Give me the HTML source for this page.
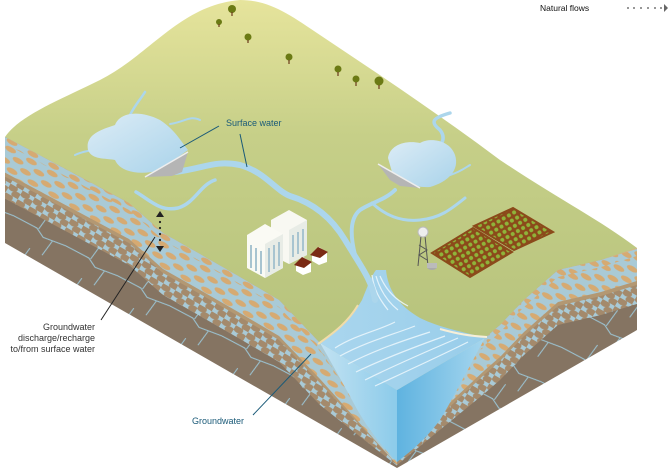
<!DOCTYPE html>
<html><head><meta charset="utf-8"><style>
html,body{margin:0;padding:0;background:#fff;width:671px;height:469px;overflow:hidden;}
svg{display:block;font-family:"Liberation Sans",sans-serif;}
</style></head><body>
<svg width="671" height="469" viewBox="0 0 671 469" xmlns="http://www.w3.org/2000/svg">
<defs>
<linearGradient id="grass" x1="0" y1="0" x2="0" y2="1">
<stop offset="0" stop-color="#e6e49c"/><stop offset="0.35" stop-color="#c6cf88"/><stop offset="1" stop-color="#b3c07a"/></linearGradient>
<linearGradient id="lake" x1="0" y1="0" x2="1" y2="1">
<stop offset="0" stop-color="#dcecf6"/><stop offset="1" stop-color="#a9d3ea"/></linearGradient>
<linearGradient id="wtop" x1="0" y1="0" x2="1" y2="0">
<stop offset="0" stop-color="#aad6ee"/><stop offset="1" stop-color="#98cdea"/></linearGradient>
<linearGradient id="wleft" x1="0" y1="0" x2="1" y2="0">
<stop offset="0" stop-color="#c2e2f2"/><stop offset="1" stop-color="#8ccbea"/></linearGradient>
<linearGradient id="wright" x1="0" y1="0" x2="1" y2="0">
<stop offset="0" stop-color="#5fb3e0"/><stop offset="1" stop-color="#a6d6ee"/></linearGradient>
<pattern id="grav" width="24" height="12" patternUnits="userSpaceOnUse" patternTransform="rotate(30)">
<rect width="24" height="12" fill="#a9cad6"/>
<ellipse cx="6" cy="3" rx="6" ry="2.6" fill="#d6aa72"/>
<ellipse cx="18" cy="9" rx="6" ry="2.6" fill="#d6aa72"/>
</pattern>
<pattern id="brgrav" width="14" height="10" patternUnits="userSpaceOnUse" patternTransform="rotate(30)">
<rect width="14" height="10" fill="#a9cad6"/>
<ellipse cx="4" cy="2.5" rx="5.5" ry="3.6" fill="#a48a6c"/>
<ellipse cx="11" cy="7.5" rx="5.5" ry="3.6" fill="#a48a6c"/>
</pattern>
<pattern id="rock" width="60" height="40" patternUnits="userSpaceOnUse" patternTransform="rotate(30)">
<rect width="60" height="40" fill="#857462"/>
<path d="M0 20 L26 19 L36 24 L60 20 M30 0 L28 19 M46 22 L44 40" stroke="#9cc6d6" stroke-width="1" fill="none"/>
</pattern>
<pattern id="crop" width="6" height="6" patternUnits="userSpaceOnUse" patternTransform="rotate(-30)">
<rect width="6" height="6" fill="#8b4a1a"/><circle cx="3" cy="3" r="2" fill="#8fb43a"/>
</pattern>
<clipPath id="lf"><path d="M5,137 L43,157 L86,180 L129,203 L163,233 L193,250 L240,277 L279,300 L320,343 L345,385 L370,430 L397,462 L397,468 L5,243 Z"/></clipPath>
<clipPath id="rf"><path d="M637,248 L601,260 L558,270 L524,300 L500,325 L485,338 L397,420 L397,468 L637,330 Z"/></clipPath>
</defs>

<path d="M5,137 C20,115 60,100 100,80 C150,55 180,5 240,0 C270,0 290,15 320,35 C380,75 440,115 500,160 C560,200 600,220 637,248 L601,260 L558,270 L524,300 L500,325 L485,338 L397,390 L320,343 L279,300 L240,277 L193,250 L163,233 L129,203 L86,180 L43,157 Z" fill="url(#grass)"/>

<g clip-path="url(#lf)">
<rect x="0" y="100" width="420" height="368" fill="url(#rock)"/>
<path transform="translate(0,62)" d="M0,134 L43,157 L86,180 L129,203 L163,233 L193,250 L240,277 L279,300 L320,343 L400,406 L400,0 L0,0Z" fill="url(#brgrav)"/>
<path transform="translate(0,40)" d="M0,134 L43,157 L86,180 L129,203 L163,233 L193,250 L240,277 L279,300 L320,343 L400,428 L400,0 L0,0Z" fill="#b39873"/>
<path transform="translate(0,36)" d="M0,134 L43,157 L86,180 L129,203 L163,233 L193,250 L240,277 L279,300 L320,343 L400,432 L400,0 L0,0Z" fill="url(#grav)"/>
<path transform="translate(0,7)" d="M0,134 L43,157 L86,180 L129,203 L163,233 L193,250 L240,277 L279,300 L320,343 L400,460 L400,0 L0,0Z" fill="url(#grav)"/>
<path d="M0,134 L43,157 L86,180 L129,203 L163,233 L193,250 L240,277 L279,300 L320,343 L400,466 L400,0 L0,0Z" fill="#e0b47c"/>
</g>
<g clip-path="url(#rf)">
<rect x="390" y="230" width="260" height="238" fill="url(#rock)"/>
<path transform="translate(0,55)" d="M640,248 L601,260 L558,270 L524,300 L500,325 L485,338 L397,410 L390,0 L640,0Z" fill="url(#brgrav)"/>
<path transform="translate(0,36)" d="M640,248 L601,260 L558,270 L524,300 L500,325 L485,338 L397,420 L390,0 L640,0Z" fill="#b39873"/>
<path transform="translate(0,32)" d="M640,248 L601,260 L558,270 L524,300 L500,325 L485,338 L397,420 L390,0 L640,0Z" fill="url(#grav)"/>
<path transform="translate(0,7)" d="M640,248 L601,260 L558,270 L524,300 L500,325 L485,338 L397,420 L390,0 L640,0Z" fill="url(#grav)"/>
<path d="M640,248 L601,260 L558,270 L524,300 L500,325 L485,338 L397,420 L390,0 L640,0Z" fill="#e0b47c"/>
</g>

<path d="M320,343 L397,390 L397,462 C380,445 365,425 352,400 C340,378 330,360 320,343Z" fill="url(#wleft)"/>
<path d="M397,390 L485,338 C470,365 455,395 440,420 C425,440 410,452 397,462Z" fill="url(#wright)"/>
<path d="M320,343 C335,330 352,318 362,300 C368,285 372,275 376,270 L386,270 C388,290 398,305 420,318 C440,328 465,332 485,338 L397,390Z" fill="url(#wtop)"/>
<path d="M318,344 C335,332 348,322 358,305" stroke="#f2dca8" stroke-width="2" fill="none"/>
<path d="M440,329 C458,334 470,336 487,337" stroke="#f7efd8" stroke-width="2" fill="none"/>
<g stroke="#eaf6fc" stroke-width="1.2" fill="none" opacity="0.9">
<path d="M335,348 C355,335 380,330 395,322"/><path d="M340,356 C365,342 395,334 415,326"/>
<path d="M348,364 C375,350 405,340 430,332"/><path d="M356,372 C385,358 420,345 445,336"/>
<path d="M365,380 C395,365 430,350 458,338"/><path d="M375,386 C405,372 440,356 468,342"/>
<path d="M372,275 C374,290 380,300 388,310"/><path d="M376,276 C380,290 388,302 398,310"/><path d="M380,276 C386,290 396,300 408,306"/>
</g>

<g stroke="#acd6ec" fill="none" stroke-linecap="round">
<path d="M175,172 C205,168 215,160 240,165 C265,172 275,190 290,196 C310,202 330,215 345,240 C360,265 372,280 375,300" stroke-width="6"/>
<path d="M136,192 C150,200 160,212 178,208 C195,203 200,185 215,180" stroke-width="3.5"/>
<path d="M395,190 C385,200 370,203 360,210 C350,218 350,235 355,255" stroke-width="4"/>
<path d="M372,203 C385,215 400,222 420,220 C440,218 450,210 465,198" stroke-width="3"/>
<path d="M420,160 C440,150 448,140 440,130 C430,122 432,118 450,113" stroke-width="3.5"/>
<path d="M130,115 C135,105 140,100 145,92" stroke-width="2.5"/>
<path d="M75,155 C85,150 90,152 96,148" stroke-width="2"/>
<path d="M170,124 C185,122 190,115 200,120" stroke-width="2"/>
<path d="M450,175 C460,172 465,168 470,165" stroke-width="2"/>
</g>
<path d="M88,150 C85,135 100,130 115,125 C120,112 140,110 160,120 C175,130 180,140 188,150 L160,170 C140,176 120,172 115,160 C105,158 92,160 88,150Z" fill="url(#lake)"/>
<path d="M388,158 C390,145 405,140 420,143 C430,137 450,140 455,155 C460,170 448,182 430,187 C415,188 400,182 392,172Z" fill="url(#lake)"/>
<polygon points="145,177 188,152 182,172 172,176" fill="#b5b5b5"/><line x1="145" y1="177" x2="188" y2="152" stroke="#eee" stroke-width="1.5"/>
<polygon points="378,164 420,188 400,186 390,180" fill="#b5b5b5"/><line x1="378" y1="164" x2="420" y2="188" stroke="#eee" stroke-width="1.5"/>

<g fill="#6b7a14">
<circle cx="232" cy="9" r="4"/><circle cx="219" cy="22" r="3"/><circle cx="248" cy="37" r="3.5"/>
<circle cx="289" cy="57" r="3.5"/><circle cx="338" cy="69" r="3.5"/><circle cx="356" cy="79" r="3.5"/><circle cx="379" cy="81" r="4.5"/>
</g>
<g stroke="#6a3a1a" stroke-width="1.2">
<line x1="232" y1="12" x2="232" y2="16"/><line x1="219" y1="24" x2="219" y2="27"/><line x1="248" y1="40" x2="248" y2="43"/>
<line x1="289" y1="60" x2="289" y2="64"/><line x1="338" y1="72" x2="338" y2="76"/><line x1="356" y1="82" x2="356" y2="86"/><line x1="379" y1="85" x2="379" y2="89"/>
</g>

<polygon points="271,220 289,210 307,220 307,255 289,264 271,255" fill="#f8f8f2"/>
<polygon points="289,230 307,220 307,255 289,264" fill="#e8ece6"/>
<polygon points="247,235 265,224 283,234 283,268 265,278 247,268" fill="#fafaf4"/>
<polygon points="265,244 283,234 283,268 265,278" fill="#e8ece6"/>
<g stroke="#a8c4d0" stroke-width="2">
<line x1="251" y1="245" x2="251" y2="268"/><line x1="256" y1="248" x2="256" y2="271"/><line x1="261" y1="251" x2="261" y2="274"/>
<line x1="269" y1="248" x2="269" y2="272"/><line x1="274" y1="245" x2="274" y2="269"/><line x1="279" y1="242" x2="279" y2="266"/>
<line x1="293" y1="235" x2="293" y2="257"/><line x1="298" y1="232" x2="298" y2="254"/><line x1="303" y1="229" x2="303" y2="251"/>
</g>
<polygon points="296,264 303,257 311,262 311,272 303,275 296,271" fill="#fff"/><polygon points="294,265 302,257 312,262 304,268" fill="#7a2a14"/>
<polygon points="312,254 319,247 327,252 327,262 319,265 312,261" fill="#fff"/><polygon points="310,255 318,247 328,252 320,258" fill="#7a2a14"/>

<g stroke="#555" stroke-width="1" fill="none"><line x1="421" y1="236" x2="418" y2="266"/><line x1="425" y1="236" x2="428" y2="266"/><path d="M419,245 L427,250 L419,255 L427,260"/></g>
<circle cx="423" cy="232" r="5" fill="#eee" stroke="#bbb"/>
<ellipse cx="432" cy="267" rx="5" ry="3" fill="#aaa"/><rect x="427" y="263" width="10" height="5" fill="#bbb"/>
<polygon points="432,253 473,228 512,252 470,277" fill="url(#crop)" stroke="#8b4a1a" stroke-width="2"/>
<polygon points="474,226 513,208 553,232 514,250" fill="url(#crop)" stroke="#8b4a1a" stroke-width="2"/>

<text x="540" y="11" font-size="8.5" fill="#111">Natural flows</text>
<g fill="#777"><circle cx="628" cy="8" r="1"/><circle cx="634" cy="8" r="1"/><circle cx="641" cy="8" r="1"/><circle cx="648" cy="8" r="1"/><circle cx="655" cy="8" r="1"/><circle cx="661" cy="8" r="1"/></g>
<polygon points="664,4 668,8 664,12" fill="#666"/>

<text x="226" y="126" font-size="9" fill="#1a5a78">Surface water</text>
<line x1="219" y1="126" x2="180" y2="148" stroke="#1a5a78" stroke-width="1"/>
<line x1="240" y1="134" x2="247" y2="167" stroke="#1a5a78" stroke-width="1"/>

<polygon points="156,217 160,211 164,217" fill="#222"/>
<g fill="#222"><circle cx="160" cy="222" r="1.1"/><circle cx="160" cy="228" r="1.1"/><circle cx="160" cy="234" r="1.1"/><circle cx="160" cy="240" r="1.1"/></g>
<polygon points="156,246 160,252 164,246" fill="#222"/>
<line x1="101" y1="320" x2="155" y2="237" stroke="#222" stroke-width="1"/>
<g font-size="9" fill="#333" text-anchor="end">
<text x="95" y="330">Groundwater</text>
<text x="95" y="341">discharge/recharge</text>
<text x="95" y="352">to/from surface water</text>
</g>
<text x="192" y="424" font-size="9" fill="#1a5a78">Groundwater</text>
<line x1="253" y1="415" x2="311" y2="354" stroke="#1a5a78" stroke-width="1"/>
</svg>
</body></html>
